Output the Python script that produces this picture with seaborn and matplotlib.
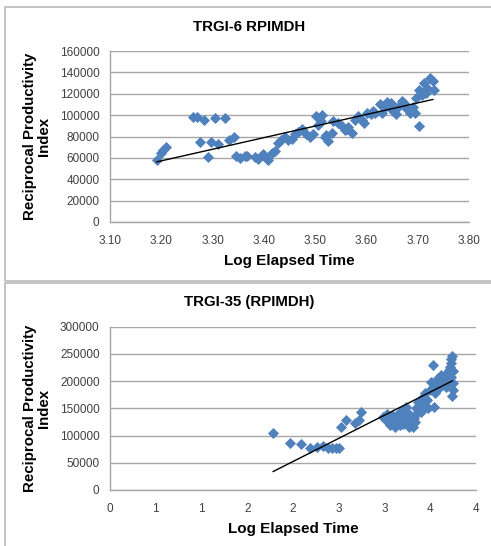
import numpy as np
import pandas as pd
import matplotlib
matplotlib.use("Agg")
import matplotlib.pyplot as plt
from matplotlib.patches import Rectangle
import seaborn as sns

# ---------------- data ----------------
top_title = "TRGI-6 RPIMDH"
bot_title = "TRGI-35 (RPIMDH)"
x_label = "Log Elapsed Time"
y_label = "Reciprocal Productivity\nIndex"

top_x = [3.191, 3.199, 3.204, 3.209, 3.262, 3.270, 3.284, 3.276, 3.291, 3.297,
         3.304, 3.311, 3.324, 3.333, 3.342, 3.346, 3.353, 3.363, 3.367, 3.382,
         3.389, 3.399, 3.405, 3.409, 3.415, 3.421, 3.428, 3.434, 3.441, 3.447,
         3.454, 3.460, 3.467, 3.475, 3.483, 3.490, 3.495, 3.502, 3.506, 3.513,
         3.511, 3.519, 3.526, 3.532, 3.535, 3.545, 3.552, 3.558, 3.565, 3.571,
         3.578, 3.584, 3.591, 3.595, 3.602, 3.608, 3.617, 3.627, 3.630, 3.637,
         3.641, 3.648, 3.653, 3.658, 3.663, 3.669, 3.674, 3.680, 3.684, 3.691,
         3.695, 3.702, 3.697, 3.703, 3.708, 3.713, 3.719, 3.724, 3.730, 3.731,
         3.522, 3.562, 3.612, 3.645, 3.688, 3.716]
top_y = [58400, 64700, 67800, 70300, 97800, 97800, 95900, 75300, 60900, 75300,
         96900, 72800, 96900, 76600, 79100, 61600, 60300, 62200, 61600, 60900,
         59400, 63400, 60300, 57800, 64700, 66600, 74100, 76600, 79700, 76600,
         78100, 82200, 84400, 86600, 82200, 79700, 82800, 99100, 90600, 100000,
         94700, 79700, 75900, 83400, 94700, 92200, 89700, 85900, 89100, 83400,
         95300, 99100, 95900, 92200, 102200, 100900, 102200, 110300, 101600, 107800,
         112500, 110900, 103100, 100900, 108400, 113400, 110900, 105300, 101600, 107800,
         101600, 89700, 115600, 123400, 118800, 129700, 125000, 134400, 132200, 123400,
         81500, 87000, 104000, 106500, 104500, 121000]
top_trend_x = [3.191, 3.730]
top_trend_y = [56250, 114700]
top_xticks = [3.10, 3.20, 3.30, 3.40, 3.50, 3.60, 3.70, 3.80]
top_xticklabels = ["3.10", "3.20", "3.30", "3.40", "3.50", "3.60", "3.70", "3.80"]
top_yticks = [0, 20000, 40000, 60000, 80000, 100000, 120000, 140000, 160000]

bot_x = [1.781, 1.964, 2.091, 2.190, 2.263, 2.328, 2.383, 2.431, 2.474, 2.504,
         2.529, 2.577, 2.675, 2.723, 2.748, 2.985, 3.022, 3.040, 3.058, 3.095,
         3.113, 3.139, 3.161, 3.186, 3.204, 3.223, 3.168, 3.234, 3.248, 3.270,
         3.314, 3.321, 3.343, 3.358, 3.369, 3.387, 3.394, 3.416, 3.431, 3.442,
         3.460, 3.478, 3.496, 3.504, 3.526, 3.540, 3.551, 3.569, 3.588, 3.599,
         3.613, 3.628, 3.642, 3.661, 3.672, 3.686, 3.697, 3.708, 3.715, 3.723,
         3.730, 3.737, 3.745, 3.752, 3.737, 3.723, 3.000, 3.080, 3.130, 3.200,
         3.260, 3.290, 3.330, 3.410, 3.450, 3.520, 3.580, 3.650, 3.700, 3.745]
bot_y = [104100, 85700, 83900, 77700, 79600, 80800, 77700, 76500, 76500, 76500,
         115100, 128600, 123700, 128600, 143900, 134700, 139600, 125500, 119400, 131600,
         116300, 123700, 140800, 128600, 146900, 134700, 119400, 153000, 122400, 116300,
         116300, 131600, 150000, 140800, 162200, 156100, 143900, 171400, 153000, 177500,
         165300, 150000, 183700, 199000, 229600, 153000, 177500, 195900, 205100, 186700,
         211200, 195900, 202000, 208100, 189800, 214300, 199000, 220400, 226500, 233800,
         240000, 246100, 195900, 183700, 172600, 208100, 131000, 137000, 128000, 121000,
         142000, 128000, 125000, 148000, 168000, 185000, 192000, 200000, 212000, 219000]
bot_trend_x = [1.781, 3.745]
bot_trend_y = [33700, 200800]
bot_xticks = [0, 0.5, 1.0, 1.5, 2.0, 2.5, 3.0, 3.5, 4.0]
bot_xticklabels = ["0", "1", "1", "2", "2", "3", "3", "4", "4"]
bot_yticks = [0, 50000, 100000, 150000, 200000, 250000, 300000]

# ---------------- styling ----------------
sns.set_theme(style="white")
plt.rcParams['font.family'] = ['Liberation Sans', 'DejaVu Sans']

W, H = 491, 546
fig = plt.figure(figsize=(W / 100, H / 100), dpi=100)

blue = "#4F81BD"
grid_c = "#A6A6A6"
axis_c = "#A6A6A6"
tick_c = "#404040"

# panel borders
fig.patches.append(Rectangle((5 / W, 1 - 281 / H), 490 / W, 274 / H, transform=fig.transFigure,
                             fill=False, edgecolor="#BFBFBF", linewidth=1.3, zorder=0))
fig.patches.append(Rectangle((5 / W, 1 - 548 / H), 490 / W, 265 / H, transform=fig.transFigure,
                             fill=False, edgecolor="#BFBFBF", linewidth=1.3, zorder=0))


def panel(rect, xs, ys, tx, ty, xticks, xticklabels, yticks, xlim, ylim, title, title_y):
    ax = fig.add_axes(rect)
    df = pd.DataFrame({"x": xs, "y": ys})
    sns.scatterplot(data=df, x="x", y="y", ax=ax, marker="D", s=32, color=blue,
                    edgecolor=blue, linewidth=0, zorder=3)
    tdf = pd.DataFrame({"x": tx, "y": ty})
    sns.lineplot(data=tdf, x="x", y="y", ax=ax, color="black", linewidth=1.0, zorder=4)
    ax.set_xlim(*xlim)
    ax.set_ylim(*ylim)
    ax.set_xticks(xticks)
    ax.set_xticklabels(xticklabels)
    ax.set_yticks(yticks)
    ax.set_yticklabels([str(v) for v in yticks])
    ax.yaxis.grid(True, color=grid_c, linewidth=1.0)
    ax.xaxis.grid(False)
    ax.set_axisbelow(True)
    for s in ["top", "right"]:
        ax.spines[s].set_visible(False)
    for s in ["left", "bottom"]:
        ax.spines[s].set_color(axis_c)
        ax.spines[s].set_linewidth(1.0)
    ax.tick_params(axis="both", which="major", direction="out", length=3.5, width=1.0,
                   color=axis_c, labelcolor=tick_c, labelsize=8.5)
    ax.tick_params(axis="y", pad=4)
    ax.tick_params(axis="x", pad=6)
    ax.set_xlabel(x_label, fontsize=11, fontweight="bold", color="black", labelpad=5)
    ax.set_ylabel(y_label, fontsize=10.8, fontweight="bold", color="black", labelpad=6,
                  linespacing=1.05)
    fig.text(249 / W, 1 - title_y / H, title, ha="center", va="center",
             fontsize=10.8, fontweight="bold", color="black")
    return ax


panel([110 / W, 1 - 222 / H, 359 / W, 171 / H], top_x, top_y, top_trend_x, top_trend_y,
      top_xticks, top_xticklabels, top_yticks, (3.10, 3.80), (0, 160000), top_title, 27)
panel([110 / W, 1 - 490 / H, 366 / W, 163.3 / H], bot_x, bot_y, bot_trend_x, bot_trend_y,
      bot_xticks, bot_xticklabels, bot_yticks, (0, 4), (0, 300000), bot_title, 302)

fig.savefig("out.png", dpi=100)
